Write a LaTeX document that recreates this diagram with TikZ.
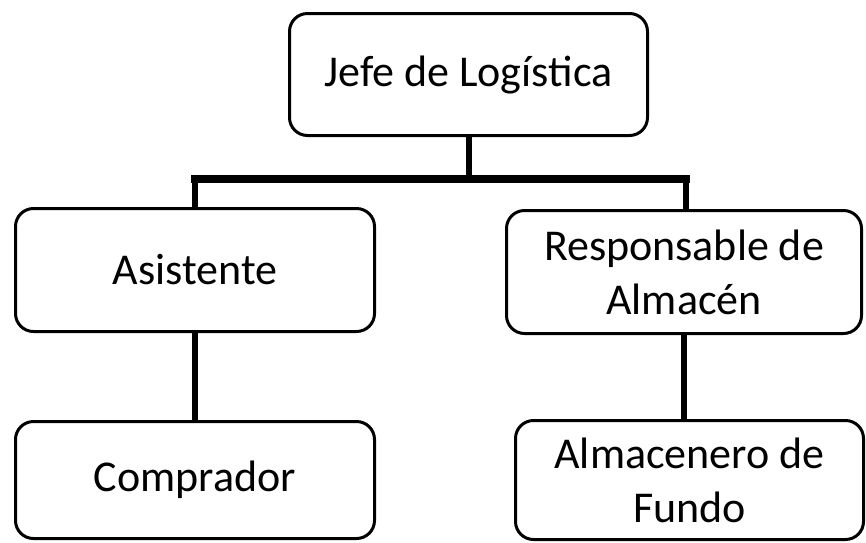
\documentclass[tikz,border=0pt]{standalone}
\usepackage{fontspec}
\setmainfont{Carlito}
\begin{document}
\begin{tikzpicture}[x=1pt,y=-1pt,
  orgbox/.style={draw=black, line width=3pt, rounded corners=18pt, fill=white,
    align=center, inner sep=0pt, font=\fontsize{44}{54}\selectfont},
  conn/.style={draw=black, line width=6pt},
  busline/.style={draw=black, line width=8pt, line cap=rect}]
\useasboundingbox (0,0) rectangle (866,542);
\node[orgbox, minimum width=358pt, minimum height=122pt] (jefe) at (468.5,74.5) {Jefe de Logística};
\node[orgbox, minimum width=359pt, minimum height=123pt] (asis) at (195,270) {Asistente};
\node[orgbox, minimum width=355pt, minimum height=123pt] (resp) at (684,272) {Responsable de\\Almacén};
\node[orgbox, minimum width=359pt, minimum height=117pt] (comp) at (195,480) {Comprador};
\node[orgbox, minimum width=348pt, minimum height=119pt] (alma) at (689.5,480) {Almacenero de\\Fundo};
\coordinate (bus) at (0,179);
\draw[conn] (jefe.south) -- (jefe.south |- bus);
\draw[conn] (asis.north |- bus) -- (asis.north);
\draw[conn] ([xshift=2pt]resp.north |- bus) -- ([xshift=2pt]resp.north);
\draw[busline] (asis.north |- bus) -- ([xshift=2pt]resp.north |- bus);
\draw[conn] (asis.south) -- (comp.north);
\draw[conn] (resp.south) -- (resp.south |- alma.north);
\end{tikzpicture}
\end{document}
